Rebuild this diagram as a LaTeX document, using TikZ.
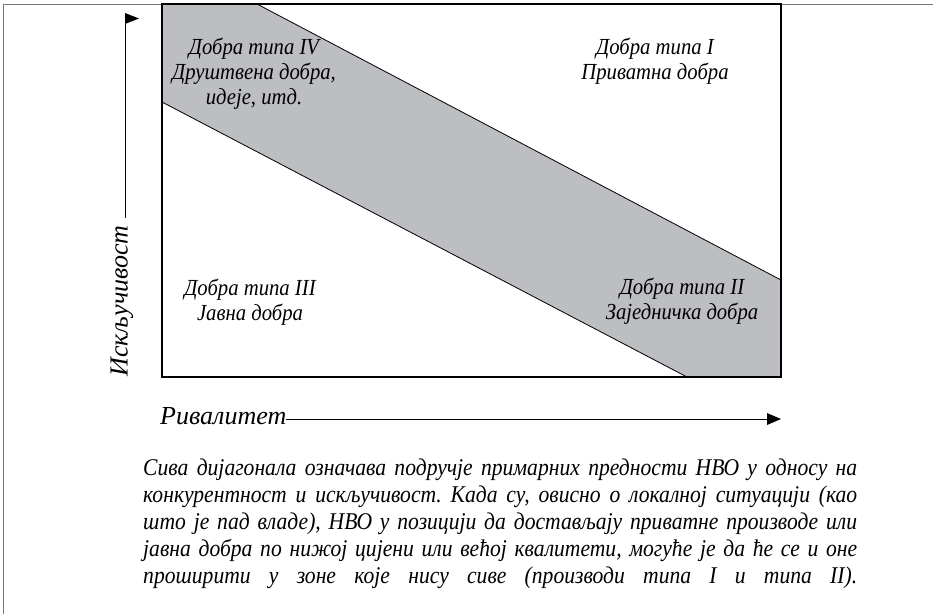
\documentclass[tikz,border=0pt]{standalone}
\usepackage{fontspec}
\setmainfont{Liberation Serif}
\newfontfamily\parafont{Liberation Serif}[FakeStretch=0.9]
\frenchspacing
\definecolor{bandgray}{RGB}{189,190,193}
\definecolor{framegray}{RGB}{120,120,120}
\begin{document}
\begin{tikzpicture}[x=1pt,y=-1pt,
  lbl/.style={font=\parafont\itshape\fontsize{23}{25}\selectfont, align=center, inner sep=0pt},
  axlbl/.style={font=\itshape\fontsize{26}{30}\selectfont, inner sep=0pt},
  para/.style={font=\parafont\itshape\fontsize{24}{27}\selectfont, inner sep=0pt, anchor=base west},
  boxline/.style={draw=black, line width=1.4pt},
  bandline/.style={draw=black, line width=0.8pt},
  axis/.style={draw=black, line width=0.8pt}]
\useasboundingbox (0,0) rectangle (933,614);
\fill[white] (0,0) rectangle (933,614);
% outer frame
\draw[framegray, line width=1pt] (3.5,614) -- (3.5,4) -- (933,4);
% corners
\coordinate (tl) at (162,4);
\coordinate (br) at (781,377);
\coordinate (bt1) at (257,4);
\coordinate (bt2) at (781,280);
\coordinate (bb1) at (162,102);
\coordinate (bb2) at (687,377);
% band
\fill[bandgray] (tl) -- (bt1) -- (bt2) -- (br) -- (bb2) -- (bb1) -- cycle;
\draw[bandline] (bt1) -- (bt2);
\draw[bandline] (bb1) -- (bb2);
\draw[boxline] (tl) rectangle (br);
% labels
\node[lbl] (t4) at (254,74) {Добра типа IV\\Друштвена добра,\\идеје, итд.};
\node[lbl] (t1) at (655,61) {Добра типа I\\Приватна добра};
\node[lbl] (t3) at (250,302) {Добра типа III\\Јавна добра};
\node[lbl] (t2) at (682,301) {Добра типа II\\Заједничка добра};
% y axis
\node[axlbl, rotate=90] (ylab) at (122,301) {Искључивост};
\coordinate (ybot) at (125,218);
\coordinate (ytop) at (125,24);
\draw[axis] (ybot) -- (ytop);
\fill (125,13) -- (139,18.5) -- (125,24) -- cycle;
% x axis
\node[axlbl, anchor=base west] (xlab) at (160,424) {Ривалитет};
\coordinate (xstart) at (xlab.east |- 0,419);
\coordinate (xend) at (768,419);
\draw[axis] (xstart) -- (xend);
\fill (767,413) -- (781,419) -- (767,425) -- cycle;
% paragraph
\node[para] (p1) at (143,475) {\makebox[714pt][s]{Сива дијагонала означава подручје примарних предности НВО у односу на}};
\node[para] (p2) at (143,502) {\makebox[714pt][s]{конкурентност и искључивост. Када су, овисно о локалној ситуацији (као}};
\node[para] (p3) at (143,529) {\makebox[714pt][s]{што је пад владе), НВО у позицији да достављају приватне производе или}};
\node[para] (p4) at (143,556) {\makebox[714pt][s]{јавна добра по нижој цијени или већој квалитети, могуће је да ће се и оне}};
\node[para] (p5) at (143,583) {\makebox[714pt][s]{проширити у зоне које нису сиве (производи типа I и типа II).}};
\end{tikzpicture}
\end{document}
